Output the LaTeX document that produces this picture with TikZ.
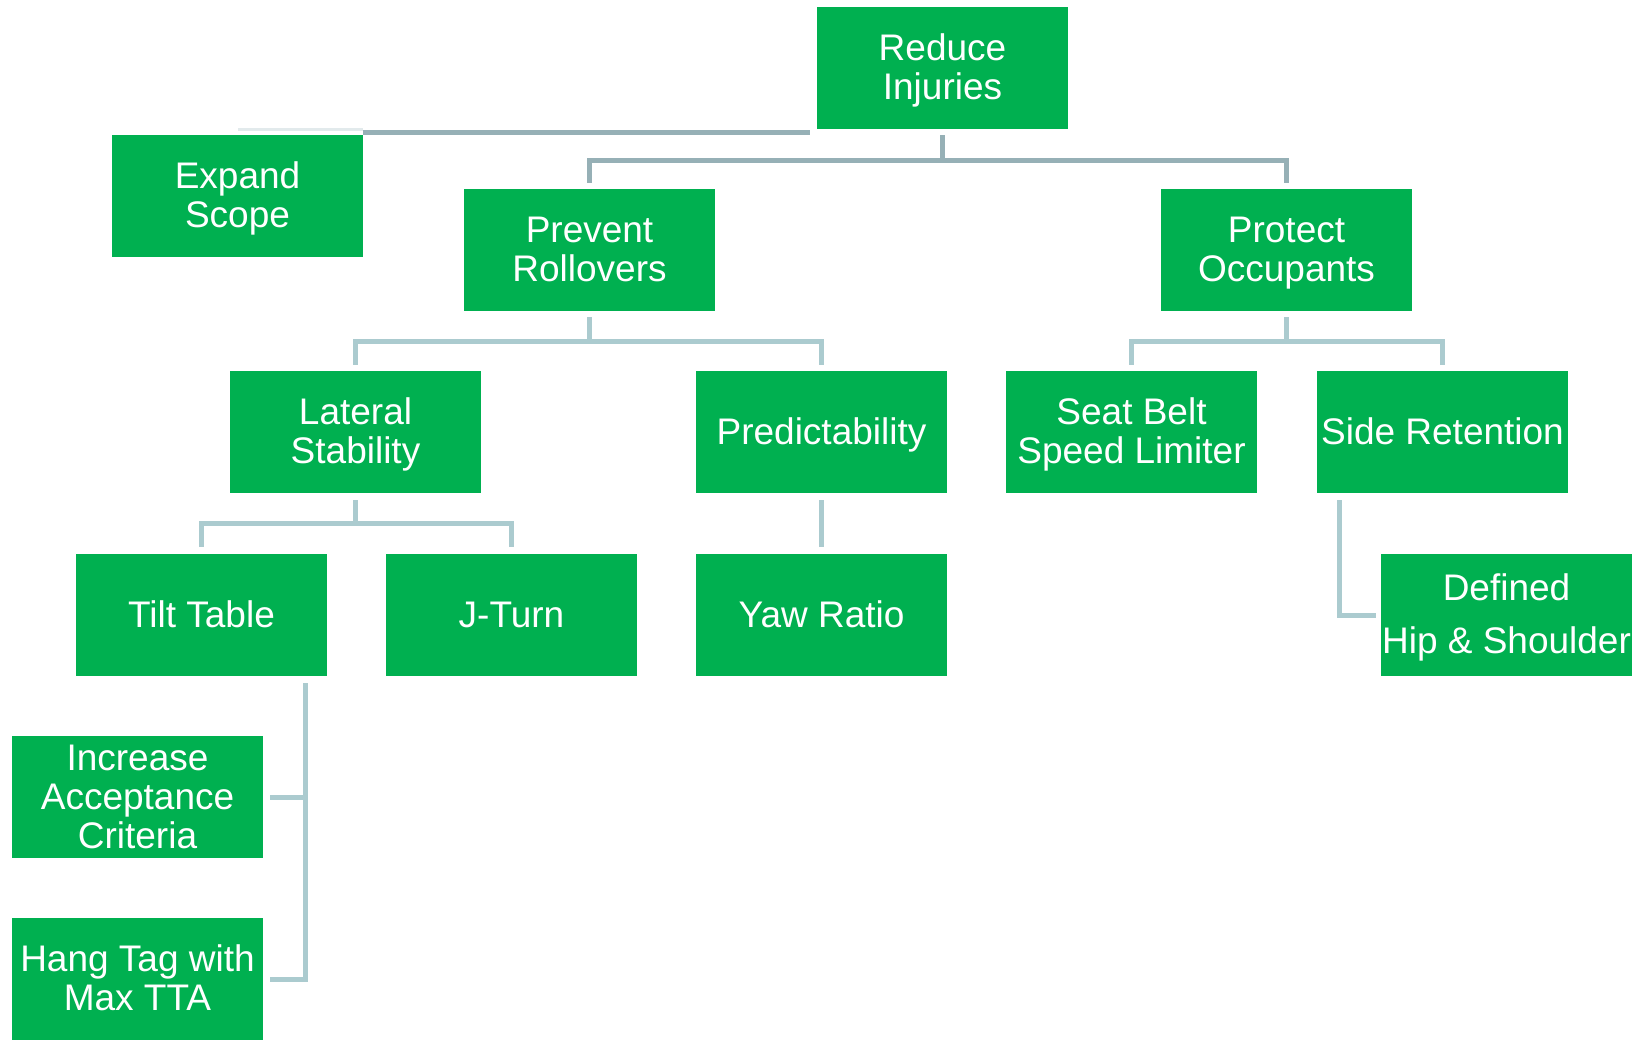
\documentclass[tikz,border=0pt]{standalone}
\usepackage{fontspec}
\setmainfont{Liberation Sans}
\definecolor{boxgreen}{RGB}{0,176,80}
\definecolor{lineA}{RGB}{150,176,182}
\definecolor{lineB}{RGB}{171,203,207}
\definecolor{linePale}{RGB}{226,234,236}
\newcommand{\tl}[1]{\rule[-4.4pt]{0pt}{33.4pt}\smash{#1}}
\begin{document}
\begin{tikzpicture}[x=1pt,y=-1pt,
  gbox/.style={fill=boxgreen,draw=none,minimum width=251pt,minimum height=122pt,
    inner sep=0pt,align=center,text=white,font=\fontsize{37}{39}\selectfont},
  connA/.style={draw=lineA,line width=5pt},
  connB/.style={draw=lineB,line width=5pt},
  connP/.style={draw=linePale,line width=3pt}]
\useasboundingbox (0,0) rectangle (1648,1045);
\newcommand{\gb}[4]{\node[gbox] (#1) at (#2+125.5,#3+61) {#4};}
\gb{red}{817}{7}{\tl{Reduce}\\\tl{Injuries}}
\gb{exp}{112}{135}{\tl{Expand}\\\tl{Scope}}
\gb{prev}{464}{189}{\tl{Prevent}\\\tl{Rollovers}}
\gb{prot}{1161}{189}{\tl{Protect}\\\tl{Occupants}}
\gb{lat}{230}{371}{\tl{Lateral}\\\tl{Stability}}
\gb{pred}{696}{371}{\tl{Predictability}}
\gb{seat}{1006}{371}{\tl{Seat Belt}\\\tl{Speed Limiter}}
\gb{side}{1317}{371}{\tl{Side Retention}}
\gb{tilt}{76}{554}{\tl{Tilt Table}}
\gb{jt}{386}{554}{\tl{J-Turn}}
\gb{yaw}{696}{554}{\tl{Yaw Ratio}}
\node[gbox,font=\fontsize{37}{53}\selectfont] (def) at (1381+125.5,554+61) {\tl{Defined}\\\tl{Hip \& Shoulder}};
\gb{inc}{12}{736}{\tl{Increase}\\\tl{Acceptance}\\\tl{Criteria}}
\gb{hang}{12}{918}{\tl{Hang Tag with}\\\tl{Max TTA}}
% top level
\draw[connA] ([yshift=-6pt]red.south) -- ++(0,25) -| ([yshift=6pt]prev.north);
\draw[connA] ([yshift=-6pt]red.south) -- ++(0,25) -| ([yshift=6pt]prot.north);
\coordinate (es) at ([xshift=-7pt,yshift=-3pt]red.south west);
\draw[connA] (es) -- (exp.north east |- es);
\draw[connP] ([yshift=5.5pt]exp.north east) -- ([yshift=5.5pt]exp.north);
% second level
\draw[connB] ([yshift=-6pt]prev.south) -- ++(0,24) -| ([yshift=6pt]lat.north);
\draw[connB] ([yshift=-6pt]prev.south) -- ++(0,24) -| ([yshift=6pt]pred.north);
\draw[connB] ([yshift=-6pt]prot.south) -- ++(0,24) -| ([yshift=6pt]seat.north);
\draw[connB] ([yshift=-6pt]prot.south) -- ++(0,24) -| ([yshift=6pt]side.north);
% third level
\draw[connB] ([yshift=-7pt]lat.south) -- ++(0,23) -| ([yshift=7pt]tilt.north);
\draw[connB] ([yshift=-7pt]lat.south) -- ++(0,23) -| ([yshift=7pt]jt.north);
\draw[connB] ([yshift=-7pt]pred.south) -- ([yshift=7pt]yaw.north);
\draw[connB] ([xshift=23pt,yshift=-7pt]side.south west) |- ([xshift=-5pt]def.west);
% fourth level
\coordinate (tb) at ([xshift=-22pt,yshift=-7pt]tilt.south east);
\draw[connB] (tb) |- ([xshift=7pt]hang.east);
\draw[connB] ([xshift=7pt]inc.east) -- (tb |- inc.east);
\end{tikzpicture}
\end{document}
